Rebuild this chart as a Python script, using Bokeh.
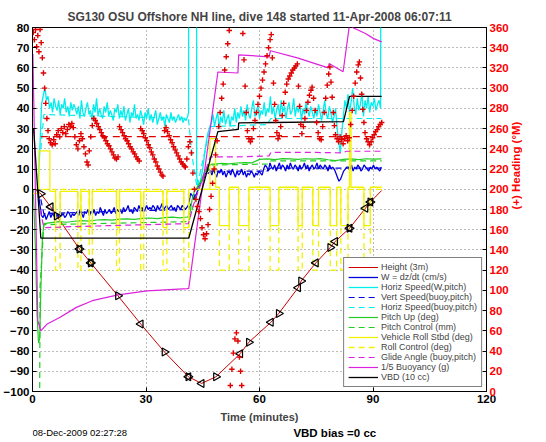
import numpy as np
from bokeh.plotting import figure
from bokeh.layouts import column
from bokeh.models import Range1d, LinearAxis, FixedTicker, Legend, LegendItem, ColumnDataSource
from bokeh.embed import file_html
from bokeh.resources import INLINE
from bokeh.core.properties import value

# ---------------- data ----------------
title_text = "SG130 OSU Offshore NH line, dive 148 started 11-Apr-2008 06:07:11"
x_ticks = [0, 30, 60, 90, 120]
y_ticks = list(range(-100, 81, 10))
hdg_ticks = list(range(0, 361, 20))

# Height (3m) with ambient markers
height_t = [0.5, 2.2, 4.8, 6.4, 12.4, 15.4, 22.6, 28.6, 34.9, 41.2, 44.7, 48.5, 54.9,
            57.2, 63.0, 65.1, 70.2, 71.0, 74.9, 78.7, 80.0, 83.8, 88.0, 89.3, 92.3]
height_v = [0.0, -2.2, -8.7, -13.2, -29.5, -36.4, -52.7, -66.6, -80.5, -92.7, -96.0, -92.7, -81.3,
            -75.6, -65.8, -61.4, -48.7, -45.4, -36.4, -28.8, -25.8, -19.3, -9.4, -6.3, -0.6]
mk_right_idx = [1, 3, 4, 5, 6, 8, 9, 11, 13, 15, 17, 19, 21, 23]
mk_left_idx = [2, 4, 5, 7, 9, 10, 12, 14, 16, 18, 20, 21, 22, 23]

# W = dz/dt (cm/s)
w_start_t = [1.4, 1.9, 2.4]
w_start_v = [0, -7, -13]
w_desc_span = (2.8, 41.2)
w_desc = [-14, -12, -15, -13, -11, -14, -12, -13, -15, -12, -14, -11, -13, -12, -14, -13, -11, -12, -14, -12, -13,
          -12, -11, -13, -10, -12, -14, -11, -12, -10, -13, -11, -12, -10, -13, -11, -12, -9, -11, -13, -10, -12, -11, -10, -12, -11, -9, -12, -10, -11,
          -10, -12, -9, -11, -10, -8, -11, -10, -12, -9, -10, -11, -8, -10, -9, -11, -10, -8, -10, -9,
          -10, -8, -9, -11, -8, -10, -9, -7, -10, -9, -8, -10, -9, -8, -10, -9, -11, -8, -9, -10, -8, -9, -10, -9, -8]
w_turn_t = [41.4, 41.8, 42.2, 42.6, 43.0, 43.4, 43.8, 44.2, 44.6, 45.0, 45.4, 45.8, 46.2, 46.6]
w_turn_v = [-6, -2, -3, -5, -4, -2, 0, 2, 4, 5, 7, 8, 9, 10]
w_asc_span = (47.0, 92.2)
w_asc = [9, 7, 10, 8, 6, 9, 8, 10, 7, 9, 6, 8, 9, 7, 10, 8, 6, 9, 7, 8, 10, 7, 9, 6, 8, 7, 9, 8, 6, 8, 7, 9, 8, 7,
         10, 12, 11, 9, 13, 11, 10, 12, 9, 11, 13, 10, 12, 11, 9, 12, 10, 13, 11, 10, 12, 11, 9, 12, 10, 11, 13, 10, 12, 9, 11, 12, 10, 11, 13, 10, 12, 11, 10, 12, 11, 9, 12, 10, 11,
         10, 8, 6, 4, 5, 7, 9, 10, 11,
         11, 10, 12, 9, 11, 10, 12, 11, 9, 10, 12, 11, 10, 9, 11, 10, 12, 10, 11, 10, 9, 11]

# Horiz Speed (W,pitch)
hs_start_t = [1.4, 1.9, 2.4, 2.9]
hs_start_v = [0, 18, 42, 47]
hs_desc_span = (3.3, 41.0)
hs_desc = [50, 44, 46, 40, 43, 38, 45, 41, 39, 44, 37, 42, 40, 45, 38, 41, 36, 43, 39, 42, 40,
           37, 41, 35, 44, 38, 36, 40, 43, 37, 39, 34, 42, 38, 45, 36, 40, 37, 35, 41, 38, 43, 36, 39, 37, 34, 40, 38, 42, 35,
           39, 36, 41, 34, 37, 40, 33, 38, 36, 42, 35, 37, 34, 39, 36, 32, 38, 35, 40, 34,
           37, 33, 36, 39, 32, 35, 38, 34, 36, 31, 37, 35, 33, 38, 34, 36, 33, 35, 37, 34, 36, 33, 35, 34, 36]
hs_turn_t = [41.25, 41.3, 43.3, 43.4, 43.9, 44.4, 44.9, 45.4, 45.9, 46.4, 46.9]
hs_turn_v = [38, 300, 300, 6, 2, 4, 9, 16, 23, 28, 31]
hs_asc_span = (47.3, 92.0)
hs_asc = [33, 37, 31, 35, 38, 30, 36, 33, 39, 32, 35, 37, 31, 36, 34, 40, 33,
          38, 35, 41, 36, 39, 34, 42, 37, 35, 40, 44, 36, 38, 41, 35, 39, 37, 43, 36, 40, 38, 46, 37, 41, 35,
          39, 42, 36, 44, 38, 41, 35, 40, 43, 37, 39, 45, 36, 41, 38, 42, 34, 40, 37, 43, 39, 36, 41, 38, 35,
          40, 36, 42, 38, 34, 39, 44, 37, 35, 41, 38, 33, 36, 40, 30, 24, 18,
          28, 36, 44, 40, 47, 38, 43, 50, 41, 37, 45, 39, 42, 48, 36, 44, 40, 46, 38, 43, 41, 45, 39, 42, 44, 40]
hs_end_t = [92.3]
hs_end_v = [300]

# Vert Speed (buoy,pitch) and Horiz Speed (buoy,pitch)
vsb_t = [2.2, 3.0, 20.0, 41.2, 42.5, 43.5, 45.0, 47.0, 62.0, 63.0, 92.2]
vsb_v = [-5, -12, -11, -10, -5, 0, 5, 9, 9, 10.5, 10.5]
hsb_t = [2.2, 3.0, 20.0, 41.2, 42.3, 43.5, 45.0, 47.0, 62.0, 63.0, 92.2]
hsb_v = [20, 37, 36, 35, 15, 1, 14, 31, 32, 35, 35]

# Pitch Up (deg)
pitch_start_t = [0.2, 0.8, 1.2, 1.6, 1.9, 2.2, 2.6]
pitch_start_v = [0, -30, -62, -76, -74, -50, -25]
pitch_desc_span = (3.0, 41.0)
pitch_desc = [-17, -16.5, -16, -16.3, -15.8, -15.5, -15.7, -15.2, -15, -15.3,
              -14.8, -14.6, -14.9, -14.4, -14.2, -14.5, -14, -13.8, -14.1, -13.7]
pitch_turn_t = [41.6, 42.2, 42.8, 43.5, 44.5, 45.5, 46.5, 47.5]
pitch_turn_v = [-12, -5, -1, 1, 4, 8.5, 11.5, 12.5]
pitch_asc_span = (48.0, 92.2)
pitch_asc = [12.5, 12.8, 12.6, 13, 13.2, 13.1, 14.8, 15, 14.7, 15.2, 15, 14.8,
             15.1, 14.9, 15.2, 14.6, 14.2, 14.8, 15, 14.7, 15.1, 14.9, 15]

# Pitch Control (mm)
pc_t = [0.2, 1.9, 2.0, 3.0, 41.3, 42.5, 44.0, 46.0, 47.5, 62.5, 63.0, 92.3]
pc_v = [-100, -100, -48, -17.5, -16, -8, 1, 9, 12, 12.5, 14, 14]

# Vehicle Roll Stbd (deg) and Roll Control (deg): value held from each change time
roll_t = [0, 1.7, 4.6, 6.1, 7.3, 12.0, 12.8, 15.0, 15.8, 22.2, 23.0, 28.6, 29.4, 34.5, 35.5, 40.0, 41.3,
          46.9, 48.4, 49.4, 52.0, 54.5, 57.2, 62.8, 65.1, 70.2, 71.3, 74.1, 75.6, 78.7, 80.4, 81.5, 83.4,
          83.8, 84.2, 87.6, 89.3, 92.3]
roll_v = [-2, 19, -1, -19, -1, -19, -1, -19, -1, -19, -1, -19, -1, -19, -1, -19, 0,
          25, 1, -18, 1, -18, 1, -18, 1, -18, 1, -18, 1, -18, 1, -18, 1,
          38, 1, -18, 1, 1]
rollc_v = [0, 0, 0, -40, 0, -40, 0, -40, 0, -40, 0, -40, 0, -40, 0, -40, 0,
           0, 0, -40, 0, -40, 0, -40, 0, -40, 0, -40, 0, -40, 0, -40, 0,
           0, 0, -40, 0, 0]

# Glide Angle (buoy,pitch)
glide_t = [2.0, 3.0, 10, 20, 30, 41.2, 42.5, 44.0, 45.5, 47.0, 54.0, 62.5, 63.0, 75.0, 82.0, 83.0, 92.2]
glide_v = [-10, -19, -18.5, -18, -17.5, -17, -8, 0, 8, 16, 16, 16.5, 18.2, 18.2, 18, 18.8, 18.8]

# 1/5 Buoyancy (g)
buoy_t = [0.1, 1.4, 2.2, 3.9, 7.3, 11.6, 15.8, 22.6, 30.3, 40.9, 41.3, 49.0, 54.3, 54.5,
          62.5, 62.9, 70.0, 78.2, 78.4, 82.1, 83.9, 84.6, 88.0, 90.2, 92.3]
buoy_v = [67, -65, -70, -66.6, -63.3, -58.4, -55.1, -52.2, -50.2, -49.1, -49, 58, 57.5, 66.5,
          65.5, 68.5, 65, 60, 62.2, 58.1, 83, 80, 77, 74.5, 72.9]

# VBD (10 cc)
vbd_t = [0.3, 2.2, 41.3, 49.0, 54.4, 54.5, 82.2, 83.8, 92.3]
vbd_v = [30, -24.2, -24.2, 28.5, 29.6, 32.8, 33.5, 45.9, 45.9]

# Heading (deg M) on the right axis
hdg_t = [0.2, 0.5, 0.8, 1.1, 1.4, 1.7, 2.0, 2.3, 2.6, 2.9, 3.2, 3.5, 3.8, 4.1, 4.4,
         4.8, 5.2, 5.6, 6.0, 6.4, 6.8, 7.2, 7.6, 8.0, 8.4, 8.8, 9.2, 9.6, 10.0, 10.4, 10.8,
         11.2, 11.6, 12.0, 12.4, 12.8, 13.2, 13.6, 14.0, 14.4, 14.7, 15.0, 15.4, 15.8, 16.2, 16.6,
         17.0, 17.4, 17.8, 18.2, 18.6, 19.0, 19.4, 19.8, 20.2, 20.6, 21.0, 21.4, 21.8, 22.2, 22.6,
         23.0, 23.4, 23.8, 24.2, 24.6, 25.0, 25.4, 25.8, 26.2, 26.6, 27.0, 27.4, 27.8, 28.2,
         28.6, 29.0, 29.4, 29.8, 30.2, 30.6, 31.0, 31.4, 31.8, 32.2, 32.6, 33.0, 33.4, 33.8, 34.2, 34.5,
         34.9, 35.3, 35.7, 36.1, 36.5, 36.9, 37.3, 37.7, 38.1, 38.5, 38.9, 39.3, 39.7, 40.1, 40.4,
         40.8, 41.2, 41.6, 42.0, 42.4, 42.8, 43.2, 43.6, 44.0, 44.4, 44.8, 45.2, 45.6,
         46.0, 46.4, 46.8, 47.2, 47.6, 48.0, 48.4, 48.8, 49.2, 49.6, 50.0, 50.4, 50.8, 51.2, 51.6, 52.0,
         52.3, 52.7, 53.1, 53.5, 53.9, 54.3, 54.7, 55.0, 55.3,
         55.6, 55.9, 56.2, 56.5, 56.8, 57.2, 57.6, 58.0,
         58.4, 58.8, 59.2, 59.6, 60.0, 60.4, 60.8, 61.2, 61.6, 62.0, 62.4, 62.8, 63.1,
         63.4, 63.7, 64.0, 64.3, 64.6, 64.9, 65.2,
         65.6, 66.0, 66.4, 66.8, 67.2, 67.6, 68.0, 68.4, 68.8, 69.2, 69.6, 70.0,
         70.3, 70.6, 70.9, 71.2, 71.6, 72.0, 72.4, 72.8, 73.2, 73.6, 73.9,
         74.3, 74.7, 75.1, 75.5, 75.9, 76.3, 76.7, 77.1, 77.5, 77.9, 78.3, 78.6,
         78.9, 79.2, 79.5, 79.8, 80.1, 80.5, 80.9, 81.3, 81.7, 82.1, 82.5, 82.9, 83.3, 83.7,
         84.1, 84.5, 84.9, 85.3, 85.7, 86.1, 86.4,
         86.7, 87.0, 87.3, 87.6, 87.9, 88.3, 88.7, 89.1, 89.5, 89.9, 90.3, 90.7, 91.1, 91.5, 91.9, 92.3]
hdg_v = [355, 348, 358, 341, 352, 336, 358, 345, 330, 315, 300, 285, 270, 258, 250,
         246, 244, 249, 245, 254, 258, 252, 260, 256, 262, 255, 259, 264, 262, 265, 261,
         252, 244, 240, 248, 255, 250, 242, 235, 227, 224, 238, 252, 263, 270, 268,
         265, 262, 259, 256, 253, 251, 248, 245, 243, 240, 237, 234, 231, 230, 232,
         262, 259, 256, 253, 250, 248, 245, 242, 240, 237, 235, 232, 230, 228,
         260, 258, 255, 251, 248, 244, 241, 237, 234, 230, 227, 223, 220, 217, 214, 213,
         258, 261, 257, 253, 249, 246, 242, 239, 236, 233, 230, 227, 225, 223, 222,
         230, 242, 247, 236, 216, 200, 190, 183, 178, 171, 162, 155, 151,
         156, 165, 180, 193, 206, 220, 234, 248, 262, 276, 290, 304, 318, 331, 344, 357,
         6, 22, 38, 52, 58, 50, 34, 20, 6,
         354, 328, 302, 276, 258, 250, 247, 250,
         260, 268, 276, 284, 292, 300, 308, 316, 324, 332, 340, 348, 353,
         330, 305, 284, 268, 256, 250, 253,
         262, 273, 285, 296, 304, 309, 312, 315, 318, 320, 322, 324,
         302, 282, 264, 255, 262, 270, 278, 286, 293, 298, 301,
         290, 278, 266, 256, 250, 249, 262, 276, 290, 303, 314, 321,
         306, 291, 276, 263, 254, 250, 247, 252, 249, 245, 250, 253, 248, 251,
         264, 278, 292, 305, 316, 323, 326,
         310, 294, 279, 266, 256, 250, 247, 244, 247, 251, 254, 257, 259, 262, 264, 266]
hdg_set_t = [2.2, 92.3]
hdg_set_v = [252, 252]

legend_labels = ["Height (3m)", "W = dz/dt (cm/s)", "Horiz Speed(W,pitch)", "Vert Speed(buoy,pitch)",
                 "Horiz Speed(buoy,pitch)", "Pitch Up (deg)", "Pitch Control (mm)", "Vehicle Roll Stbd (deg)",
                 "Roll Control (deg)", "Glide Angle (buoy,pitch)", "1/5 Buoyancy (g)", "VBD (10 cc)"]
footer_texts = ["08-Dec-2009 02:27:28", "VBD bias =0 cc"]
footer_x = [0.0, 79.9]

# ---------------- helpers ----------------
def seg(span, vals):
    return list(np.linspace(span[0], span[1], len(vals)))

w_t = w_start_t + seg(w_desc_span, w_desc) + w_turn_t + seg(w_asc_span, w_asc)
w_v = w_start_v + w_desc + w_turn_v + w_asc
hs_t = hs_start_t + seg(hs_desc_span, hs_desc) + hs_turn_t + seg(hs_asc_span, hs_asc) + hs_end_t
hs_v = hs_start_v + hs_desc + hs_turn_v + hs_asc + hs_end_v
pitch_t = pitch_start_t + seg(pitch_desc_span, pitch_desc) + pitch_turn_t + seg(pitch_asc_span, pitch_asc)
pitch_v = pitch_start_v + pitch_desc + pitch_turn_v + pitch_asc

FONT = "Liberation Sans"
RED = "#e00000"
BLUE = "#0000dd"
CYAN = "#00eeee"
GREEN = "#22cc22"
YELLOW = "#f2f200"
MAGENTA = "#dd22dd"
BL, BR = 24, 40

p = figure(width=530, height=426, x_range=Range1d(0, 120), y_range=Range1d(-100, 80),
           output_backend="svg", toolbar_location=None,
           min_border_left=BL, min_border_right=BR, min_border_top=27, min_border_bottom=35)
p.extra_y_ranges = {"hdg": Range1d(0, 360)}
p.outline_line_color = "black"
p.outline_line_width = 1

p.title.text = title_text
p.title.align = "center"
p.title.text_font = FONT
p.title.text_font_style = "bold"
p.title.text_font_size = "12px"
p.title.standoff = 8
p.title.offset = 12

p.xaxis.ticker = FixedTicker(ticks=x_ticks)
p.yaxis.ticker = FixedTicker(ticks=y_ticks)
p.xgrid.ticker = FixedTicker(ticks=x_ticks)
p.ygrid.ticker = FixedTicker(ticks=y_ticks)
for g in (p.xgrid, p.ygrid):
    g.grid_line_color = "#777777"
    g.grid_line_dash = "1 3"
    g.grid_line_width = 1

ax_r = LinearAxis(y_range_name="hdg", ticker=FixedTicker(ticks=hdg_ticks))
p.add_layout(ax_r, "right")

for ax in (p.xaxis[0], p.yaxis[0], ax_r):
    ax.major_label_text_font = FONT
    ax.major_label_text_font_style = "bold"
    ax.major_label_text_font_size = "11.5px"
    ax.major_label_text_color = "black"
    ax.major_tick_in = 4
    ax.major_tick_out = 0
    ax.minor_tick_line_color = None
    ax.axis_line_color = "black"
    ax.major_tick_line_color = "black"
    ax.major_label_standoff = 3
    ax.axis_label_text_font = FONT
    ax.axis_label_text_font_style = "bold"
    ax.axis_label_text_font_size = "11.5px"
ax_r.major_label_text_color = "red"
ax_r.axis_label = "(+) Heading (°M)"
ax_r.axis_label_text_color = "red"
ax_r.axis_label_standoff = 4
try:
    ax_r.axis_label_orientation = float(np.pi / 2)
except Exception:
    pass
p.xaxis.axis_label = "Time (minutes)"
p.xaxis.axis_label_text_font_size = "11px"
p.xaxis.axis_label_standoff = 5

# ---------------- glyphs ----------------
r_h = p.line(height_t, height_v, line_color="#cc0000", line_width=1)
r_w = p.line(w_t, w_v, line_color=BLUE, line_width=1.3)
r_hs = p.line(hs_t, hs_v, line_color=CYAN, line_width=1.3)
r_vsb = p.line(vsb_t, vsb_v, line_color=BLUE, line_width=1.2, line_dash="6 4")
r_hsb = p.line(hsb_t, hsb_v, line_color=CYAN, line_width=1.2, line_dash="6 4")
r_p = p.line(pitch_t, pitch_v, line_color=GREEN, line_width=1.2)
r_pc = p.line(pc_t, pc_v, line_color=GREEN, line_width=1.2, line_dash="6 4")
r_roll = p.step(roll_t, roll_v, mode="after", line_color=YELLOW, line_width=1.3)
r_rollc = p.step(roll_t, rollc_v, mode="after", line_color=YELLOW, line_width=1.3, line_dash="6 4")
r_gl = p.line(glide_t, glide_v, line_color=MAGENTA, line_width=1.2, line_dash="6 4")
r_b = p.line(buoy_t, buoy_v, line_color=MAGENTA, line_width=1.2)
r_vbd = p.line(vbd_t, vbd_v, line_color="black", line_width=1.3)

p.scatter([height_t[i] for i in mk_right_idx], [height_v[i] for i in mk_right_idx],
          marker="triangle", angle=-np.pi / 2, size=8, fill_color=None, line_color="black", line_width=1.2)
p.scatter([height_t[i] for i in mk_left_idx], [height_v[i] for i in mk_left_idx],
          marker="triangle", angle=np.pi / 2, size=8, fill_color=None, line_color="black", line_width=1.2)

p.line(hdg_set_t, hdg_set_v, y_range_name="hdg", line_color=RED, line_width=1.2, line_dash="7 5")
p.scatter(hdg_t, hdg_v, y_range_name="hdg", marker="cross", size=5.5, line_color=RED, line_width=1.4)

# ---------------- legend ----------------
rends = [r_h, r_w, r_hs, r_vsb, r_hsb, r_p, r_pc, r_roll, r_rollc, r_gl, r_b, r_vbd]
legend = Legend(items=[LegendItem(label=l, renderers=[r]) for l, r in zip(legend_labels, rends)],
                location="bottom_right")
legend.label_text_font = FONT
legend.label_text_font_size = "9px"
legend.glyph_width = 30
legend.glyph_height = 10
legend.label_height = 10
legend.label_standoff = 3
legend.spacing = 0
legend.padding = 4
legend.margin = 4
legend.border_line_color = "black"
legend.border_line_width = 1
legend.background_fill_color = "white"
legend.background_fill_alpha = 1
p.add_layout(legend)

# ---------------- footer strip ----------------
foot = figure(width=530, height=12, x_range=p.x_range, y_range=Range1d(-1, 1),
              output_backend="svg", toolbar_location=None,
              min_border_left=BL, min_border_right=BR, min_border_top=0, min_border_bottom=0)
foot.xaxis.visible = False
foot.yaxis.visible = False
foot.xgrid.visible = False
foot.ygrid.visible = False
foot.outline_line_color = None
fsrc = ColumnDataSource(dict(x=footer_x, y=[0, 0], text=footer_texts,
                             align=["left", "center"], style=["normal", "bold"], size=["9.5px", "11.5px"]))
foot.text(x="x", y="y", text="text", source=fsrc, text_align="align", text_baseline="middle",
          text_font=value(FONT), text_font_style="style", text_font_size="size", text_color="black")

layout = column(p, foot, spacing=0)
open("out.html", "w").write(file_html(layout, INLINE))
